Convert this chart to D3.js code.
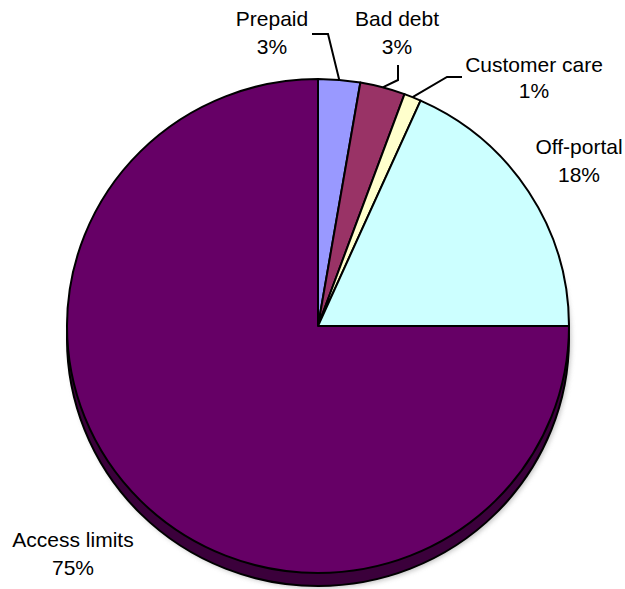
<!DOCTYPE html>
<html><head><meta charset="utf-8">
<script src="https://cdn.jsdelivr.net/npm/d3@7"></script>
<style>body{margin:0;background:#fff}svg{display:block}</style>
</head><body>
<svg id="chart" width="625" height="589"></svg>
<script>
const categories = ["Prepaid", "Bad debt", "Customer care", "Off-portal", "Access limits"];
const values = [2.7, 2.9, 1.1, 18.3, 75.0];
const percentLabels = ["3%", "3%", "1%", "18%", "75%"];
const colors = ["#9999FF", "#993366", "#FFFFCC", "#CCFFFF", "#660066"];

const W = 625, H = 589;
const cx = 318, cy = 326, rx = 251, ry = 247, depth = 13;
const svg = d3.select("#chart");

const pie = d3.pie().sort(null).value(d => d).startAngle(0).endAngle(2 * Math.PI);
const arcs = pie(values);
const arc = d3.arc().innerRadius(0).outerRadius(rx);

// soft shadow
const defs = svg.append("defs");
const f = defs.append("filter").attr("id", "blur").attr("x", "-10%").attr("y", "-10%").attr("width", "120%").attr("height", "130%");
f.append("feGaussianBlur").attr("stdDeviation", 2.5);
svg.append("ellipse").attr("cx", cx + 2).attr("cy", cy + depth + 2).attr("rx", rx).attr("ry", ry)
  .attr("fill", "#999").attr("filter", "url(#blur)").attr("opacity", 0.6);

// side (3D depth)
svg.append("ellipse").attr("cx", cx).attr("cy", cy + depth).attr("rx", rx).attr("ry", ry)
  .attr("fill", "#3b003b").attr("stroke", "#000").attr("stroke-width", 2);

// top face
const g = svg.append("g").attr("transform", `translate(${cx},${cy}) scale(1,${ry / rx})`);
g.selectAll("path").data(arcs).join("path")
  .attr("d", arc)
  .attr("fill", (d, i) => colors[i])
  .attr("stroke", "#000")
  .attr("stroke-width", 2)
  .attr("stroke-linejoin", "round")
  .style("vector-effect", "non-scaling-stroke");

// labels
const labelPos = [
  { x: 272, y: 26, dy: 28 },
  { x: 397, y: 26, dy: 28 },
  { x: 534, y: 72, dy: 26 },
  { x: 579, y: 154, dy: 28 },
  { x: 73, y: 547, dy: 28 }
];
const leaders = [
  [[312, 34], [328, 34]],
  [[398, 65], [398, 80]],
  [[462, 77], [447, 77]],
  null, null
];
function edgePoint(i) {
  const a = (arcs[i].startAngle + arcs[i].endAngle) / 2;
  return [cx + rx * Math.sin(a), cy - ry * Math.cos(a)];
}
leaders.forEach((pts, i) => {
  if (!pts) return;
  const all = pts.concat([edgePoint(i)]);
  svg.append("path").attr("d", d3.line()(all))
    .attr("fill", "none").attr("stroke", "#000").attr("stroke-width", 2);
});

const tg = svg.append("g").attr("font-family", "Liberation Sans, Arial, sans-serif")
  .attr("font-size", 21).attr("fill", "#000").attr("text-anchor", "middle");
categories.forEach((c, i) => {
  const p = labelPos[i];
  const t = tg.append("text").attr("x", p.x).attr("y", p.y);
  t.append("tspan").attr("x", p.x).attr("dy", 0).text(c);
  t.append("tspan").attr("x", p.x).attr("dy", p.dy).text(percentLabels[i]);
});
</script>
</body></html>
